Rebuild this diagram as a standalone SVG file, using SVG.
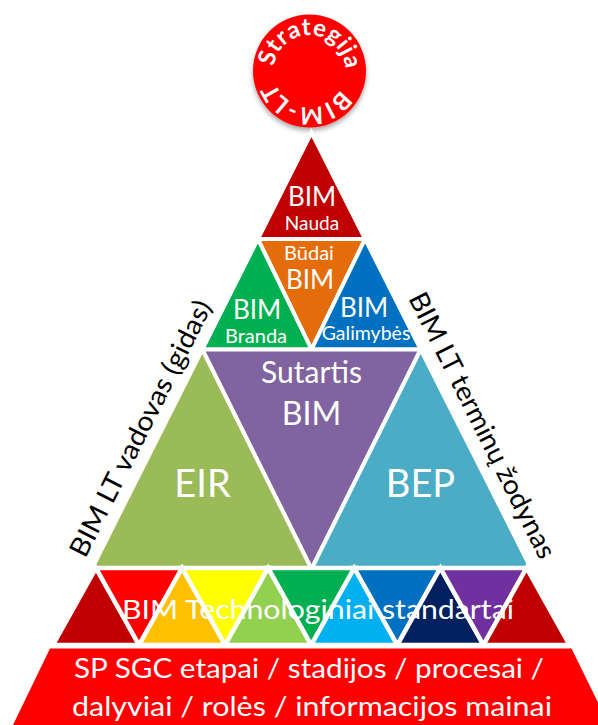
<svg xmlns="http://www.w3.org/2000/svg" width="598" height="725" viewBox="0 0 598 725">
<defs>
<style>
.t{font-family:Lato,"Open Sans","Liberation Sans",sans-serif;fill:#fff;text-anchor:middle}
.k{font-family:Lato,"Open Sans","Liberation Sans",sans-serif;fill:#000;text-anchor:middle}
.s{stroke:#fff;stroke-width:4;stroke-linejoin:miter}
.b{stroke:#fff;stroke-width:4.5;stroke-linejoin:miter}
</style>
<filter id="sh" x="-30%" y="-30%" width="160%" height="160%">
<feDropShadow dx="0" dy="3" stdDeviation="2.5" flood-color="#000" flood-opacity="0.35"/>
</filter>
<path id="arc" d="M 273.5,71 A 36 36 0 1 1 345.5,71 A 36 36 0 1 1 273.5,71"/>
</defs>
<rect width="598" height="725" fill="#fff"/>

<g id="strategija">
<circle cx="309.5" cy="71" r="56.5" fill="#FF0000" filter="url(#sh)"/>
<text class="t" font-size="24" font-weight="bold" letter-spacing="0.6"><textPath href="#arc" startOffset="58">Strategija</textPath></text>
<text class="t" font-size="24" font-weight="bold" letter-spacing="0.6"><textPath href="#arc" startOffset="173.5">BIM-LT</textPath></text>
</g>

<g id="nauda">
<polygon class="s" fill="#C00000" points="311.5,132.5 365.1,239 257.9,239"/>
<text class="t" x="312" y="206" font-size="26">BIM</text>
<text class="t" x="312" y="230" font-size="19">Nauda</text>
</g>

<g id="budai">
<polygon class="s" fill="#E46C0A" points="257.9,239 365.1,239 311.5,349.5"/>
<text class="t" x="309" y="260" font-size="20">Būdai</text>
<text class="t" x="310" y="289" font-size="26">BIM</text>
</g>

<g id="branda">
<polygon class="s" fill="#00B050" points="257.9,239 311.5,349.5 202.3,349.5"/>
<text class="t" x="257" y="319" font-size="26">BIM</text>
<text class="t" x="256" y="343" font-size="20">Branda</text>
</g>

<g id="galimybes">
<polygon class="s" fill="#0070C0" points="365.1,239 420.7,349.5 311.5,349.5"/>
<text class="t" x="364" y="317" font-size="26">BIM</text>
<text class="t" x="366" y="340" font-size="19.5">Galimybės</text>
</g>

<g id="sutartis">
<polygon class="s" fill="#8064A2" points="202.3,349.5 420.7,349.5 311.5,569"/>
<text class="t" x="311.5" y="383" font-size="30">Sutartis</text>
<text class="t" x="311.5" y="425" font-size="32">BIM</text>
</g>

<g id="eir">
<polygon class="s" fill="#9BBB59" points="202.3,349.5 311.5,569 91.7,569"/>
<text class="t" x="202.5" y="497" font-size="38">EIR</text>
</g>

<g id="bep">
<polygon class="s" fill="#4BACC6" points="420.7,349.5 531.3,569 311.5,569"/>
<text class="t" x="420.5" y="497" font-size="38">BEP</text>
</g>

<g id="standartai">
<polygon class="b" fill="#C00000" points="96,568 139.05,645 52.95,645"/>
<polygon class="b" fill="#FF0000" points="96,568 182.1,568 139.05,645"/>
<polygon class="b" fill="#FFC000" points="182.1,568 225.15,645 139.05,645"/>
<polygon class="b" fill="#FFFF00" points="182.1,568 268.2,568 225.15,645"/>
<polygon class="b" fill="#92D050" points="268.2,568 311.25,645 225.15,645"/>
<polygon class="b" fill="#00B050" points="268.2,568 354.3,568 311.25,645"/>
<polygon class="b" fill="#00B0F0" points="354.3,568 397.35,645 311.25,645"/>
<polygon class="b" fill="#0070C0" points="354.3,568 440.4,568 397.35,645"/>
<polygon class="b" fill="#002060" points="440.4,568 483.45,645 397.35,645"/>
<polygon class="b" fill="#7030A0" points="440.4,568 526.5,568 483.45,645"/>
<polygon class="b" fill="#C00000" points="526.5,568 569.55,645 483.45,645"/>
<text class="t" x="318" y="619" font-size="26.5" textLength="392" lengthAdjust="spacingAndGlyphs">BIM Technologiniai standartai</text>
</g>

<g id="sp-sgc">
<polygon fill="#FF0000" points="50,648.5 571.5,648.5 609,725 13,725"/>
<text class="t" x="309" y="678" font-size="26" textLength="470" lengthAdjust="spacingAndGlyphs">SP SGC etapai / stadijos / procesai /</text>
<text class="t" x="312" y="716" font-size="26" textLength="480" lengthAdjust="spacingAndGlyphs">dalyviai / rolės / informacijos mainai</text>
</g>

<g id="vadovas">
<text class="k" font-size="27" transform="translate(148.9,432.5) rotate(-63.3)" textLength="283" lengthAdjust="spacingAndGlyphs">BIM LT vadovas (gidas)</text>
</g>

<g id="zodynas">
<text class="k" font-size="27" transform="translate(474,429.5) rotate(63.3)" textLength="294" lengthAdjust="spacingAndGlyphs">BIM LT terminų žodynas</text>
</g>

<g id="connectors"/>
</svg>
